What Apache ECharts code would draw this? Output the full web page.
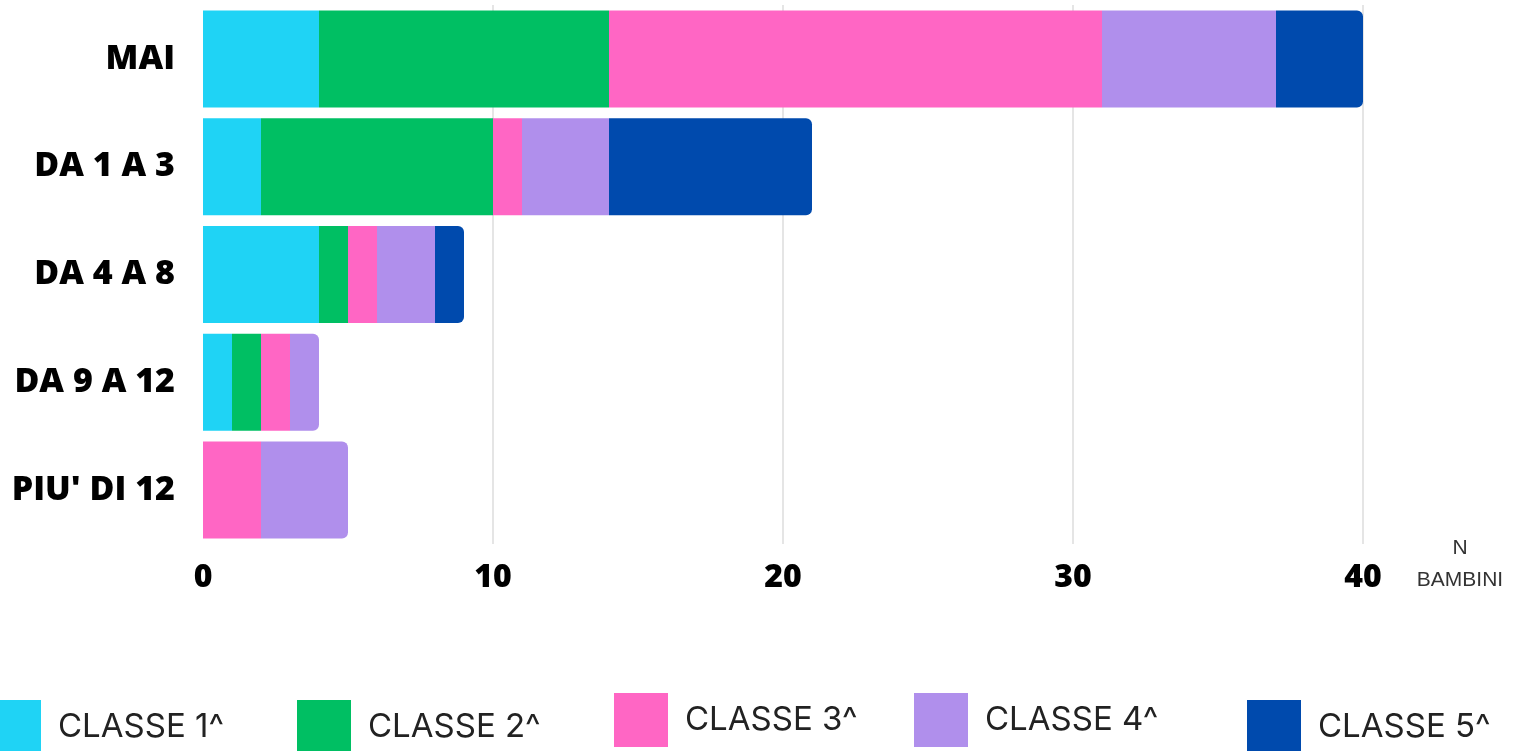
<!DOCTYPE html>
<html><head><meta charset="utf-8">
<script src="https://cdn.jsdelivr.net/npm/echarts@6/dist/echarts.min.js"></script>
<style>html,body{margin:0;padding:0;background:#fff}#c{width:1516px;height:751px}</style>
</head><body><div id="c"></div>
<script>
const categories = ["MAI", "DA 1 A 3", "DA 4 A 8", "DA 9 A 12", "PIU' DI 12"];
const seriesNames = ["CLASSE 1^", "CLASSE 2^", "CLASSE 3^", "CLASSE 4^", "CLASSE 5^"];
const classe1 = [4, 2, 4, 1, 0];
const classe2 = [10, 8, 1, 1, 0];
const classe3 = [17, 1, 1, 1, 2];
const classe4 = [6, 3, 2, 1, 3];
const classe5 = [3, 7, 1, 0, 0];
const xTicks = [0, 10, 20, 30, 40];
const axisName = "N\nBAMBINI";

const values = [classe1, classe2, classe3, classe4, classe5];
const colors = ["#1fd3f5", "#00bf63", "#ff66c4", "#b08fec", "#004aad"];

// last nonzero segment per category gets rounded end
const lastIdx = categories.map((c, i) => {
  let li = -1;
  values.forEach((v, s) => { if (v[i] > 0) li = s; });
  return li;
});

const series = values.map((v, s) => ({
  name: seriesNames[s],
  type: 'bar',
  stack: 'total',
  barCategoryGap: '10%',
  itemStyle: { color: colors[s] },
  data: v.map((val, i) => ({
    value: val,
    itemStyle: lastIdx[i] === s ? { borderRadius: [0, 6, 6, 0] } : {}
  }))
}));

const legendPos = [
  { left: -13, top: 700 },
  { left: 297, top: 700 },
  { left: 614, top: 693 },
  { left: 914, top: 693 },
  { left: 1247, top: 700 }
];
const legends = seriesNames.map((n, i) => ({
  data: [n],
  left: legendPos[i].left,
  top: legendPos[i].top,
  padding: 0,
  icon: 'rect',
  itemWidth: 54,
  itemHeight: 54,
  selectedMode: false,
  textStyle: { fontFamily: 'Inter', fontSize: 33, color: '#222', padding: [0, 0, 2, 12] }
}));

const chart = echarts.init(document.getElementById('c'), null, { renderer: 'canvas' });
chart.setOption({
  animation: false,
  grid: { left: 203, right: 153, top: 5, bottom: 207, containLabel: false },
  legend: legends,
  xAxis: {
    type: 'value',
    min: xTicks[0],
    max: xTicks[xTicks.length - 1],
    interval: xTicks[1] - xTicks[0],
    axisLine: { show: false },
    axisTick: { show: false },
    axisLabel: { fontFamily: 'Open Sans', fontWeight: 800, fontSize: 32, color: '#000', margin: 18 },
    splitLine: { show: true, lineStyle: { color: ['rgba(0,0,0,0)', '#dcdcdc', '#dcdcdc', '#dcdcdc', '#dcdcdc'], width: 1.5 } },
    name: axisName,
    nameLocation: 'end',
    nameGap: 97,
    nameTextStyle: { fontFamily: 'Liberation Sans', fontSize: 21, color: '#333', align: 'center', verticalAlign: 'top', lineHeight: 32, padding: [-12, 0, 0, 0] }
  },
  yAxis: {
    type: 'category',
    data: categories,
    inverse: true,
    axisLine: { show: false },
    axisTick: { show: false },
    axisLabel: { fontFamily: 'Open Sans', fontWeight: 800, fontSize: 34, color: '#000', margin: 28 }
  },
  series: series
});
</script></body></html>
